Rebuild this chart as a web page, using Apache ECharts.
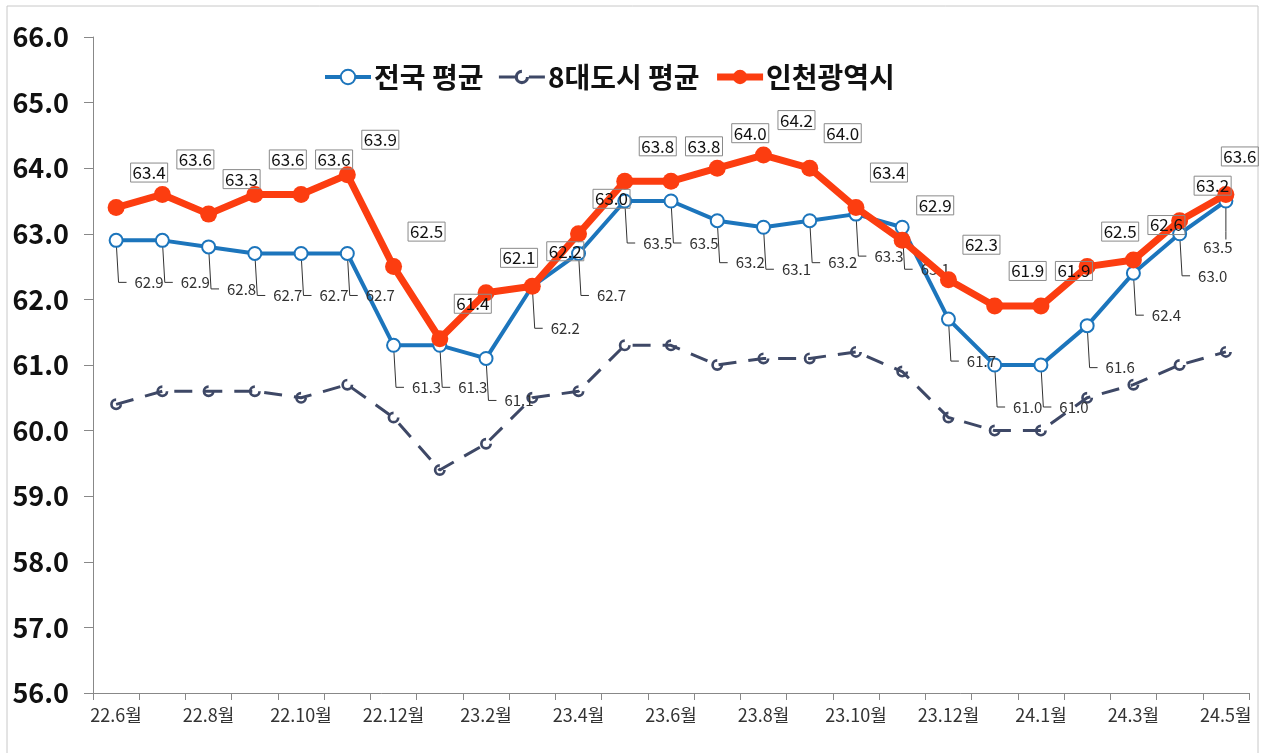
<!DOCTYPE html>
<html>
<head>
<meta charset="utf-8">
<script src="https://cdn.jsdelivr.net/npm/echarts@6/dist/echarts.min.js"></script>
<style>
html,body{margin:0;padding:0;background:#fff;}
#chart{width:1265px;height:753px;}
</style>
</head>
<body>
<div id="chart"></div>
<script>
const categories = ['22.6월','22.7월','22.8월','22.9월','22.10월','22.11월','22.12월','23.1월','23.2월','23.3월','23.4월','23.5월','23.6월','23.7월','23.8월','23.9월','23.10월','23.11월','23.12월','24.1월','24.1월','24.2월','24.3월','24.4월','24.5월'];
const nationalAvg = [62.9,62.9,62.8,62.7,62.7,62.7,61.3,61.3,61.1,62.2,62.7,63.5,63.5,63.2,63.1,63.2,63.3,63.1,61.7,61.0,61.0,61.6,62.4,63.0,63.5];
const eightCityAvg = [60.4,60.6,60.6,60.6,60.5,60.7,60.2,59.4,59.8,60.5,60.6,61.3,61.3,61.0,61.1,61.1,61.2,60.9,60.2,60.0,60.0,60.5,60.7,61.0,61.2];
const incheon = [63.4,63.6,63.3,63.6,63.6,63.9,62.5,61.4,62.1,62.2,63.0,63.8,63.8,64.0,64.2,64.0,63.4,62.9,62.3,61.9,61.9,62.5,62.6,63.2,63.6];
const seriesNames = ['전국 평균','8대도시 평균','인천광역시'];
const yTicks = {min:56, max:66, interval:1};

const FONT = "'Noto Sans CJK KR', 'Noto Sans', sans-serif";
const lastIdx = incheon.length - 1;
const BLUE = '#1c75bc', SLATE = '#3e4866', RED = '#fc3d10';
const hookSymbol = 'path://M10,1 A9,9 0 1 0 19,10 L15,10 A5,5 0 1 1 10,5 Z';

const chart = echarts.init(document.getElementById('chart'), null, {renderer:'canvas'});
chart.setOption({
  backgroundColor:'#fff',
  animation:false,
  graphic:[{
    type:'rect', shape:{x:7,y:6,width:1251,height:760},
    style:{fill:'none', stroke:'#c8c8c8', lineWidth:1}, silent:true, z:-10
  }],
  legend:{
    top:58, left:318,
    itemWidth:46, itemHeight:18, itemGap:14,
    textStyle:{fontFamily:FONT, fontSize:28, fontWeight:'bold', color:'#111', padding:[0,0,0,-2]},
    data:[
      {name:seriesNames[0], lineStyle:{width:4}},
      {name:seriesNames[1], lineStyle:{width:3}},
      {name:seriesNames[2], lineStyle:{width:7}}
    ]
  },
  grid:{left:93, right:16, top:37, bottom:60},
  xAxis:{
    type:'category', data:categories, boundaryGap:true,
    axisLine:{lineStyle:{color:'#888', width:1}},
    axisTick:{show:true, alignWithLabel:false, interval:0, length:7, lineStyle:{color:'#888'}},
    axisLabel:{interval:1, margin:13, fontFamily:FONT, fontSize:18, color:'#333'},
    splitLine:{show:false}
  },
  yAxis:{
    type:'value', min:yTicks.min, max:yTicks.max, interval:yTicks.interval,
    axisLine:{show:true, lineStyle:{color:'#888', width:1}},
    axisTick:{show:true, inside:false, length:9, lineStyle:{color:'#888'}},
    axisLabel:{margin:24, fontFamily:FONT, fontSize:27, fontWeight:'bold', color:'#111',
      formatter:v=>v.toFixed(1)},
    splitLine:{show:false}
  },
  series:[
    {
      name:seriesNames[0], type:'line', data:nationalAvg, z:3,
      symbol:'emptyCircle', symbolSize:13,
      lineStyle:{color:BLUE, width:4},
      itemStyle:{color:BLUE, borderColor:BLUE, borderWidth:3},
      label:{
        show:true, position:'inside', fontFamily:FONT, fontSize:15, color:'#333',
        padding:[0,24,0,8], backgroundColor:'transparent',
        formatter:p=>p.value.toFixed(1)
      },
      labelLine:{show:true, length2:8, smooth:false, minTurnAngle:80, lineStyle:{color:'#333', width:1}},
      labelLayout:function(p){
        if(p.dataIndex===lastIdx){ return {dx:0, dy:46}; }
        return {dx:41, dy:42};
      }
    },
    {
      name:seriesNames[1], type:'line', data:eightCityAvg, z:2,
      symbol:hookSymbol, symbolSize:12,
      lineStyle:{color:SLATE, width:3, type:[18,12]},
      itemStyle:{color:SLATE, borderWidth:0}
    },
    {
      name:seriesNames[2], type:'line', data:incheon, z:4,
      symbol:'circle', symbolSize:17,
      lineStyle:{color:RED, width:7},
      itemStyle:{color:RED},
      label:{
        show:true, position:'inside', fontFamily:FONT, fontSize:17, color:'#111',
        borderColor:'#8a8a8a', borderWidth:1, padding:[2,2,0,2],
        formatter:p=>p.value.toFixed(1)
      },
      labelLayout:function(p){
        if(p.dataIndex===lastIdx){ return {dx:14, dy:-38}; }
        return {dx:33, dy:-35};
      }
    }
  ]
});
</script>
</body>
</html>
